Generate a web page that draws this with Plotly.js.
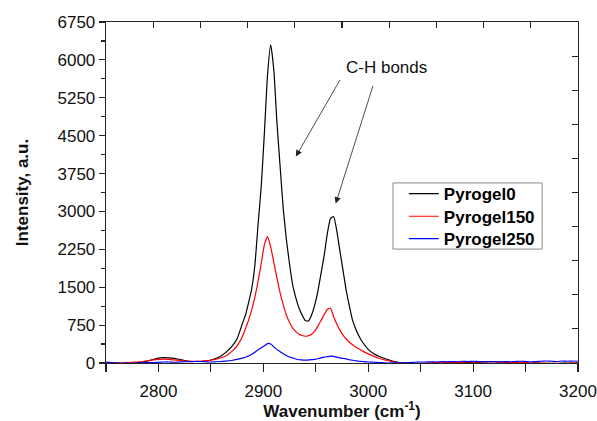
<!DOCTYPE html>
<html>
<head>
<meta charset="utf-8">
<script src="https://cdn.plot.ly/plotly-3.0.1.min.js"></script>
<style>html,body{margin:0;padding:0;background:#fff;}#chart{width:597px;height:421px;}</style>
</head>
<body>
<div id="chart"></div>
<script>
// Wavenumber (cm^-1)
var wavenumber = [
  2750,2755,2760,2765,2770,2775,2780,2785,2790,2795,2800,2805,2810,2815,2820,2825,2830,2835,2840,2845,2850,2855,2860,2865,2870,2875,2880,
  2883,2886,2889,2892,2895,2898,2901,2904,2907,2910,2913,2916,2919,2922,2925,2928,2931,2934,2937,2940,2943,2946,2949,2952,2955,2958,2961,2964,2967,2970,2973,2976,2979,2982,2985,2988,2991,2994,
  3000,3005,3010,3015,3020,3025,3030,3035,3040,3045,3050,3055,3060,3065,3070,3075,3080,3085,3090,3095,3100,3105,3110,3115,3120,3125,3130,3135,3140,3145,3150,3155,3160,3165,3170,3175,3180,3185,3190,3195,3200
];
var pyrogel0 = [
  0,-5,5,-10,0,-5,10,20,40,70,95,105,100,90,70,50,35,30,30,40,60,95,145,225,330,480,780,
  950,1200,1480,1950,2750,3500,4550,5700,6300,5800,4750,3890,3050,2440,1955,1540,1290,1090,950,840,830,950,1150,1420,1770,2130,2560,2860,2900,2620,2220,1830,1440,1130,850,680,540,430,
  270,190,135,95,60,30,10,0,-10,-15,-20,-20,-15,-10,-5,0,0,5,5,10,10,15,20,25,30,25,15,10,5,0,0,-5,0,-5,-10,-5,-10,0,-5,0,0
];
var pyrogel150 = [
  10,0,5,0,10,15,20,30,45,60,70,75,70,60,50,40,35,35,35,45,55,75,105,150,230,340,520,
  680,850,1060,1310,1620,1970,2340,2500,2300,1990,1680,1390,1150,945,800,690,620,570,545,530,540,570,630,730,840,960,1060,1085,920,770,650,550,475,410,360,315,280,245,
  180,135,95,65,40,20,5,-10,-20,-15,-5,0,5,10,5,10,15,10,15,20,15,20,25,20,25,15,20,10,15,5,10,0,5,-5,0,-10,-5,-10,-5,0,5
];
var pyrogel250 = [
  20,10,0,-5,0,-5,0,5,10,10,15,20,20,15,20,25,25,30,30,25,20,25,30,40,50,70,95,
  115,140,175,215,260,300,340,385,375,320,265,225,185,150,120,100,80,65,60,55,60,65,70,85,100,115,125,135,130,115,100,90,80,65,55,45,35,30,
  20,15,10,5,0,5,0,5,10,15,20,20,25,20,30,25,30,25,35,30,35,30,25,30,25,20,30,25,30,35,30,25,30,35,40,35,30,40,35,40,35
];
var seriesNames = ['Pyrogel0', 'Pyrogel150', 'Pyrogel250'];
var seriesColors = ['#000000', '#ff0000', '#0000ff'];
var yTickVals = [0, 750, 1500, 2250, 3000, 3750, 4500, 5250, 6000, 6750];
var xTickVals = [2800, 2900, 3000, 3100, 3200];
var annotationText = 'C-H bonds';

var FONT = 'Liberation Sans, Arial, sans-serif';
var allY = [pyrogel0, pyrogel150, pyrogel250];
var legendIds = ['legend', 'legend2', 'legend3'];
var traces = allY.map(function (ys, i) {
  return {
    x: wavenumber, y: ys, type: 'scatter', mode: 'lines', name: seriesNames[i],
    legend: legendIds[i],
    line: {color: seriesColors[i], width: 1.2, shape: 'spline', smoothing: 0.5}
  };
});
// empty trace so the mirrored frame axes (top/right) are drawn
traces.push({x: [], y: [], xaxis: 'x2', yaxis: 'y2', showlegend: false, hoverinfo: 'skip', type: 'scatter'});

function legendAt(yPaper) {
  return {
    x: 0.631, y: yPaper, xanchor: 'left', yanchor: 'middle',
    borderwidth: 0, bgcolor: 'rgba(0,0,0,0)',
    font: {family: FONT, size: 17, color: '#000', weight: 'bold'}
  };
}

var layout = {
  width: 597, height: 421,
  margin: {l: 106, r: 19, t: 22, b: 58},
  paper_bgcolor: '#fff', plot_bgcolor: '#fff',
  font: {family: FONT, size: 17, color: '#111'},
  showlegend: true,
  legend: legendAt(0.4956),
  legend2: legendAt(0.429),
  legend3: legendAt(0.3636),
  shapes: [
    {type: 'rect', xref: 'paper', yref: 'paper', x0: 0.608, x1: 0.924, y0: 0.334, y1: 0.528,
     line: {color: '#888', width: 1}, fillcolor: 'rgba(255,255,255,1)', layer: 'above'}
  ],
  xaxis: {
    range: [2750, 3200], tickvals: xTickVals, ticks: 'outside', ticklen: 8, tickwidth: 1.2,
    tickcolor: '#222', showline: true, linecolor: '#222', linewidth: 1.3, showgrid: false, zeroline: false,
    minor: {dtick: 50, tick0: 2750, ticks: 'outside', ticklen: 8, tickwidth: 1.2, tickcolor: '#222', showgrid: false},
    tickfont: {family: FONT, size: 17, color: '#111'},
    ticklabelstandoff: 4,
    title: {text: 'Wavenumber (cm<sup>-1</sup>)', font: {family: FONT, size: 17, color: '#111', weight: 'bold'}, standoff: 8}
  },
  yaxis: {
    range: [0, 6750], tickvals: yTickVals, ticks: 'outside', ticklen: 6, tickwidth: 1.2,
    tickcolor: '#222', showline: true, linecolor: '#222', linewidth: 1.3, showgrid: false, zeroline: false,
    minor: {dtick: 375, tick0: 0, ticks: 'outside', ticklen: 3.5, tickwidth: 1.2, tickcolor: '#222', showgrid: false},
    tickfont: {family: FONT, size: 17, color: '#111'},
    title: {text: 'Intensity, a.u.', font: {family: FONT, size: 17, color: '#111', weight: 'bold'}, standoff: 24}
  },
  xaxis2: {
    overlaying: 'x', side: 'top', range: [0, 10], dtick: 1, ticks: 'inside', ticklen: 6, tickwidth: 1.2,
    tickcolor: '#222', showline: true, linecolor: '#222', linewidth: 1.3, showticklabels: false,
    showgrid: false, zeroline: false, fixedrange: true
  },
  yaxis2: {
    overlaying: 'y', side: 'right', range: [0, 10], dtick: 1, ticks: 'inside', ticklen: 6, tickwidth: 1.2,
    tickcolor: '#222', showline: true, linecolor: '#222', linewidth: 1.3, showticklabels: false,
    showgrid: false, zeroline: false, fixedrange: true
  },
  annotations: [
    {x: 3017, y: 5853, xref: 'x', yref: 'y', text: annotationText, showarrow: false,
     font: {family: FONT, size: 17, color: '#111'}},
    {x: 2931, y: 4087, ax: 2974, ay: 5635, xref: 'x', yref: 'y', axref: 'x', ayref: 'y',
     text: '', showarrow: true, arrowhead: 2, arrowsize: 1.6, arrowwidth: 0.8, arrowcolor: '#222'},
    {x: 2969, y: 3157, ax: 3005, ay: 5516, xref: 'x', yref: 'y', axref: 'x', ayref: 'y',
     text: '', showarrow: true, arrowhead: 2, arrowsize: 1.6, arrowwidth: 0.8, arrowcolor: '#222'}
  ]
};

Plotly.newPlot('chart', traces, layout, {displayModeBar: false, staticPlot: true});
</script>
</body>
</html>
